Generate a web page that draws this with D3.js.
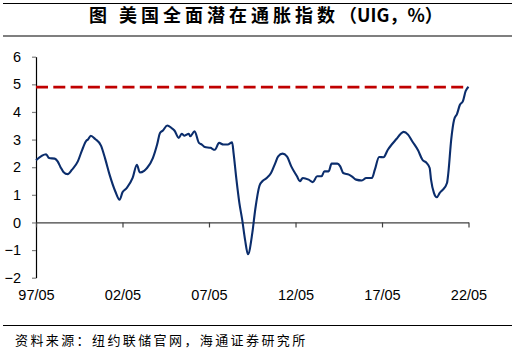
<!DOCTYPE html>
<html>
<head>
<meta charset="utf-8">
<script src="https://cdn.jsdelivr.net/npm/d3@7/dist/d3.min.js"></script>
<style>
  html, body { margin: 0; padding: 0; background: #fff; }
  svg { display: block; }
</style>
</head>
<body>
<script>
// UIG full data set, % (month, value)
const months = [
  "1997-05","1997-12","1998-02","1998-06","1998-08","1998-10","1998-12","1999-03","1999-06","1999-10",
  "2000-01","2000-04","2000-05","2000-07","2000-10","2001-02","2001-05","2001-08","2001-12","2002-03",
  "2002-05","2002-08","2002-12","2003-03","2003-05","2003-08","2003-10","2004-02","2004-05","2004-07",
  "2004-09","2004-12","2005-03","2005-05","2005-08","2005-10","2005-12","2006-03","2006-04","2006-07",
  "2006-10","2006-12","2007-02","2007-06","2007-09","2007-12","2008-03","2008-06","2008-09","2008-10",
  "2008-12","2009-02","2009-04","2009-06","2009-08","2009-11","2010-01","2010-04","2010-06","2010-09",
  "2010-12","2011-03","2011-05","2011-08","2011-11","2012-02","2012-06","2012-08","2012-10","2013-02",
  "2013-05","2013-08","2013-11","2014-01","2014-04","2014-06","2014-10","2014-12","2015-02","2015-06",
  "2015-08","2015-11","2016-03","2016-06","2016-10","2016-12","2017-03","2017-06","2017-09","2017-12",
  "2018-03","2018-06","2018-08","2018-11","2019-02","2019-06","2019-09","2019-12","2020-02","2020-03",
  "2020-05","2020-07","2020-09","2020-11","2021-02","2021-03","2021-05","2021-07","2021-09","2021-11",
  "2022-01","2022-03","2022-05"
];
const uig = [
  2.25,2.47,2.33,2.31,2.21,2.00,1.83,1.75,1.91,2.21,
  2.63,2.97,3.00,3.14,3.02,2.78,2.30,1.73,1.12,0.82,
  1.09,1.25,1.61,2.09,1.81,1.87,1.97,2.33,2.82,3.24,
  3.33,3.51,3.42,3.33,3.06,3.21,3.14,3.21,3.12,3.30,
  2.88,2.82,2.73,2.70,2.63,2.88,2.82,2.82,2.90,2.51,
  1.55,0.70,0.10,-0.63,-1.15,-0.38,0.46,1.33,1.49,1.61,
  1.79,2.15,2.39,2.49,2.39,2.03,1.67,1.49,1.61,1.55,
  1.46,1.67,1.67,1.85,1.85,2.13,2.13,2.03,1.79,1.73,
  1.67,1.55,1.52,1.61,1.61,1.91,2.37,2.36,2.63,2.84,
  3.02,3.21,3.28,3.18,2.93,2.61,2.27,2.15,1.97,1.55,
  1.07,0.91,1.07,1.18,1.43,1.79,3.00,3.72,3.93,4.26,
  4.38,4.75,4.91
];
// reference level (latest reading)
const refLevel = 4.9;
const yTicks = [-2, -1, 0, 1, 2, 3, 4, 5, 6];
const xTickMonths = ["1997-05","2002-05","2007-05","2012-05","2017-05","2022-05"];

const titleMain = "图 美国全面潜在通胀指数";
const titleUnit = "（UIG，%）";
const sourceText = "资料来源：纽约联储官网，海通证券研究所";

const W = 527, H = 349;
const parse = d3.timeParse("%Y-%m");
const data = months.map((m, i) => ({ date: parse(m), v: uig[i] }));

const svg = d3.select("body").append("svg").attr("width", W).attr("height", H);

// title block with rules above and below
svg.append("line").attr("x1", 3).attr("x2", 512).attr("y1", 3.5).attr("y2", 3.5)
  .attr("stroke", "#000").attr("stroke-width", 1.2);
svg.append("line").attr("x1", 3).attr("x2", 512).attr("y1", 36).attr("y2", 36)
  .attr("stroke", "#000").attr("stroke-width", 1.2);
const title = svg.append("text").attr("x", 89).attr("y", 22.3)
  .style("font-family", "'Noto Sans CJK SC', sans-serif")
  .style("font-size", "18px").style("font-weight", "bold");
title.append("tspan").style("letter-spacing", "4px").text(titleMain);
title.append("tspan").style("letter-spacing", "0px").text(titleUnit);

// scales
const x = d3.scaleTime().domain([parse("1997-05"), parse("2022-05")]).range([36, 468.5]);
const y = d3.scaleLinear().domain([-2, 6]).range([277.7, 56.7]);

// y axis
const yAxis = svg.append("g").attr("transform", "translate(36,0)")
  .call(d3.axisLeft(y).tickValues(yTicks).tickFormat(d3.format("d")).tickSize(4).tickSizeOuter(0).tickPadding(11));
yAxis.select(".domain").attr("stroke", "#000").attr("stroke-width", 1.2);
yAxis.selectAll(".tick line").attr("stroke", "#7f7f7f").attr("stroke-width", 1.2);
yAxis.selectAll(".tick text")
  .style("font-family", "'Liberation Sans', Arial, sans-serif").style("font-size", "14.5px").attr("fill", "#000");

// x axis along zero, labels below the plot
const labelTop = 289.5;
const xAxis = svg.append("g").attr("transform", `translate(0,${y(0)})`)
  .call(d3.axisBottom(x).tickValues(xTickMonths.map(parse)).tickFormat(d3.timeFormat("%y/%m"))
    .tickSize(5).tickSizeOuter(0).tickPadding(labelTop - y(0) - 5));
xAxis.select(".domain").attr("stroke", "#404040").attr("stroke-width", 1.2);
xAxis.selectAll(".tick line").attr("stroke", "#404040").attr("stroke-width", 1.2);
xAxis.selectAll(".tick text")
  .style("font-family", "'Liberation Sans', Arial, sans-serif").style("font-size", "14.5px").attr("fill", "#000");

// dashed reference level
svg.append("line")
  .attr("x1", x.range()[0]).attr("x2", x.range()[1])
  .attr("y1", y(refLevel)).attr("y2", y(refLevel))
  .attr("stroke", "#c00000").attr("stroke-width", 2.8)
  .attr("stroke-dasharray", "12,5.3");

// UIG line
const line = d3.line().x(d => x(d.date)).y(d => y(d.v)).curve(d3.curveMonotoneX);
svg.append("path").datum(data)
  .attr("d", line)
  .attr("fill", "none")
  .attr("stroke", "#0b2d6c")
  .attr("stroke-width", 2.1)
  .attr("stroke-linejoin", "round");

// source note
svg.append("line").attr("x1", 3).attr("x2", 512).attr("y1", 325.5).attr("y2", 325.5)
  .attr("stroke", "#000").attr("stroke-width", 1);
svg.append("text").attr("x", 15).attr("y", 344.5)
  .style("font-family", "'Noto Sans CJK SC', sans-serif")
  .style("font-size", "13px")
  .style("letter-spacing", "2.4px")
  .text(sourceText);
</script>
</body>
</html>
